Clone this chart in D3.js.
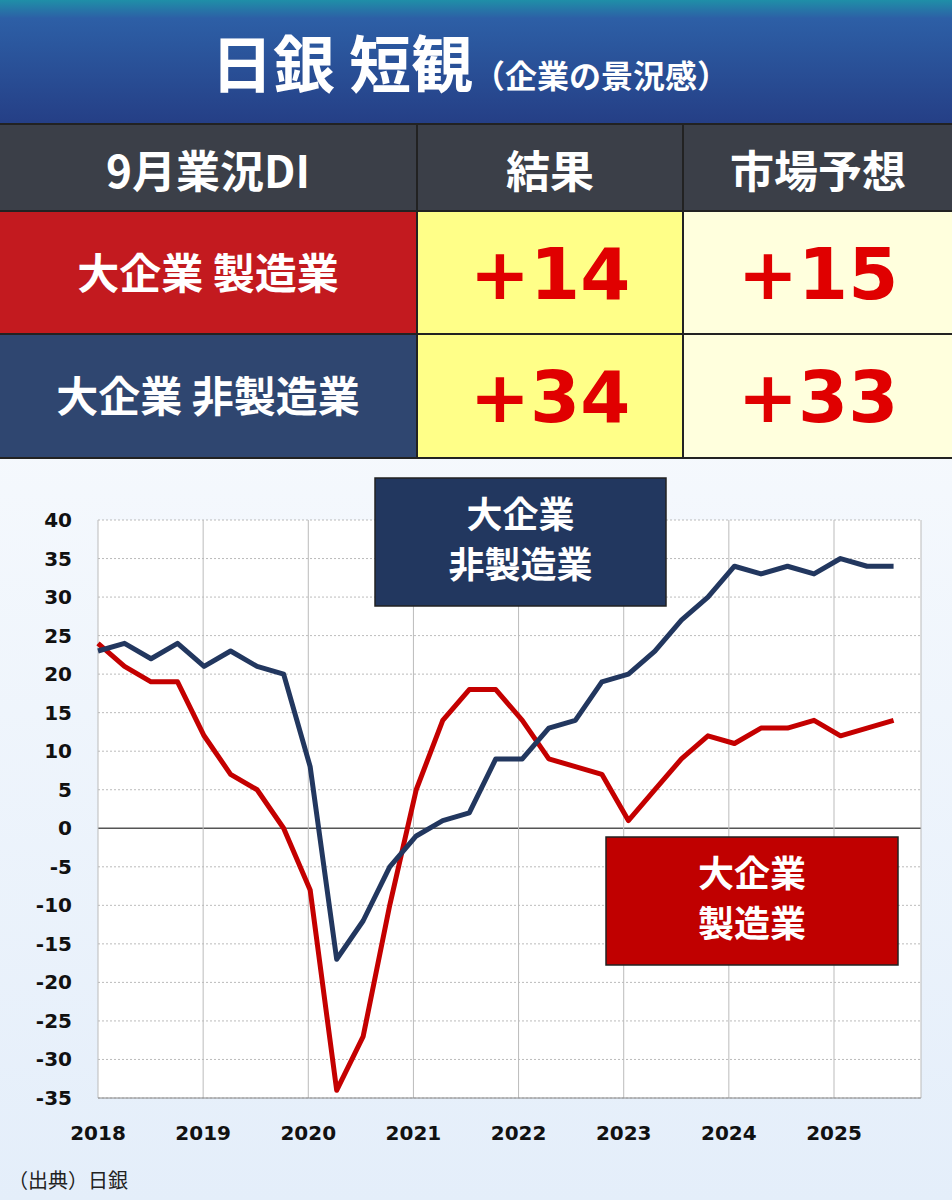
<!DOCTYPE html>
<html><head><meta charset="utf-8">
<script src="https://cdn.jsdelivr.net/npm/d3@7"></script>
<style>body{margin:0;background:#fff}svg{display:block;font-family:"Noto Sans CJK JP","Noto Sans",sans-serif}</style>
</head><body><div id="chart"></div>
<script>
const years = [2018, 2019, 2020, 2021, 2022, 2023, 2024, 2025];
const yTicks = [40, 35, 30, 25, 20, 15, 10, 5, 0, -5, -10, -15, -20, -25, -30, -35];
// quarterly DI, 2018 Q1 .. 2025 Q3
const manufacturing = [24,21,19,19, 12,7,5,0, -8,-34,-27,-10, 5,14,18,18, 14,9,8,7, 1,5,9,12, 11,13,13,14, 12,13,14];
const nonManufacturing = [23,24,22,24, 21,23,21,20, 8,-17,-12,-5, -1,1,2,9, 9,13,14,19, 20,23,27,30, 34,33,34,33, 35,34,34];
const tableHeader = ["9月業況DI", "結果", "市場予想"];
const tableRows = [
  {name: "大企業 製造業", result: "+14", forecast: "+15"},
  {name: "大企業 非製造業", result: "+34", forecast: "+33"}
];

const W = 952, H = 1200;
const svg = d3.select("#chart").append("svg").attr("width", W).attr("height", H);
const defs = svg.append("defs");

const tg = defs.append("linearGradient").attr("id", "tg").attr("x1", 0).attr("x2", 0).attr("y1", 0).attr("y2", 1);
tg.append("stop").attr("offset", 0).attr("stop-color", "#1f8fa8");
tg.append("stop").attr("offset", 0.15).attr("stop-color", "#2d5fa6");
tg.append("stop").attr("offset", 1).attr("stop-color", "#253f86");
const bg = defs.append("linearGradient").attr("id", "bg").attr("x1", 0).attr("x2", 0).attr("y1", 0).attr("y2", 1);
bg.append("stop").attr("offset", 0).attr("stop-color", "#ffffff");
bg.append("stop").attr("offset", 1).attr("stop-color", "#e4eefa");

svg.append("rect").attr("width", W).attr("height", H).attr("fill", "url(#bg)");

// Title banner
svg.append("rect").attr("width", W).attr("height", 123).attr("fill", "url(#tg)");
const title = svg.append("text").attr("x", 470).attr("y", 88).attr("text-anchor", "middle")
  .attr("fill", "#fff").attr("font-weight", "bold");
title.append("tspan").attr("font-size", 62).text("日銀 短観");
title.append("tspan").attr("font-size", 32).text("（企業の景況感）");

// Table
const cols = [[0, 416], [418, 682], [684, 952]];
const rowsY = [[125, 210], [212, 333], [335, 457]];
svg.append("rect").attr("y", 123).attr("width", W).attr("height", 336).attr("fill", "#222");
tableHeader.forEach((t, i) => {
  svg.append("rect").attr("x", cols[i][0]).attr("y", rowsY[0][0])
    .attr("width", cols[i][1] - cols[i][0]).attr("height", rowsY[0][1] - rowsY[0][0]).attr("fill", "#3b3f48");
  svg.append("text").attr("x", (cols[i][0] + cols[i][1]) / 2).attr("y", 188)
    .attr("text-anchor", "middle").attr("fill", "#fff").attr("font-size", 44).attr("font-weight", "bold").text(t);
});
const nameFill = ["#c31a1f", "#2f4670"];
tableRows.forEach((r, j) => {
  const [y0, y1] = rowsY[j + 1];
  const cy = (y0 + y1) / 2;
  const cells = [r.name, r.result, r.forecast];
  const fills = [nameFill[j], "#ffff88", "#ffffdd"];
  cells.forEach((c, i) => {
    svg.append("rect").attr("x", cols[i][0]).attr("y", y0)
      .attr("width", cols[i][1] - cols[i][0]).attr("height", y1 - y0).attr("fill", fills[i]);
    svg.append("text").attr("x", (cols[i][0] + cols[i][1]) / 2).attr("y", i === 0 ? cy + 16 : cy + 26)
      .attr("text-anchor", "middle").attr("font-weight", "bold")
      .attr("font-size", i === 0 ? 42 : 72)
      .attr("fill", i === 0 ? "#fff" : "#e00000")
      .attr("font-family", i === 0 ? null : "'DejaVu Sans',sans-serif")
      .text(c);
  });
});

// Line chart
const plot = {left: 98, right: 921, top: 520, bottom: 1098};
const x = d3.scaleLinear().domain([2018, 2025]).range([plot.left, 834]);
const y = d3.scaleLinear().domain([-35, 40]).range([plot.bottom, plot.top]);
const qx = i => x(2018 + i / 4) + (i / 30) * 7;

const g = svg.append("g");
g.append("rect").attr("x", plot.left).attr("y", plot.top)
  .attr("width", plot.right - plot.left).attr("height", plot.bottom - plot.top).attr("fill", "#fff");
g.selectAll(".hg").data(yTicks).join("line")
  .attr("x1", plot.left).attr("x2", plot.right).attr("y1", d => y(d)).attr("y2", d => y(d))
  .attr("stroke", d => d === 0 ? "#555" : "#aaa").attr("stroke-width", d => d === 0 ? 1.5 : 0.8)
  .attr("stroke-dasharray", d => d === 0 ? null : "2,2");
g.selectAll(".vg").data(years).join("line")
  .attr("x1", d => x(d)).attr("x2", d => x(d)).attr("y1", plot.top).attr("y2", plot.bottom)
  .attr("stroke", "#bbb").attr("stroke-width", 1);
g.append("line").attr("x1", plot.right).attr("x2", plot.right).attr("y1", plot.top).attr("y2", plot.bottom).attr("stroke", "#bbb");
g.append("line").attr("x1", plot.left).attr("x2", plot.right).attr("y1", plot.bottom).attr("y2", plot.bottom).attr("stroke", "#888");

g.selectAll(".yl").data(yTicks).join("text")
  .attr("x", 72).attr("y", d => y(d) + 7).attr("text-anchor", "end")
  .attr("font-size", 20).attr("font-weight", "bold").attr("fill", "#111")
  .attr("font-family", "'DejaVu Sans',sans-serif").text(d => d);
g.selectAll(".xl").data(years).join("text")
  .attr("x", d => x(d)).attr("y", 1140).attr("text-anchor", "middle")
  .attr("font-size", 20).attr("font-weight", "bold").attr("fill", "#111")
  .attr("font-family", "'DejaVu Sans',sans-serif").text(d => d);

const line = d3.line().x((d, i) => qx(i)).y(d => y(d));
g.append("path").datum(manufacturing).attr("d", line).attr("fill", "none")
  .attr("stroke", "#c40000").attr("stroke-width", 5).attr("stroke-linejoin", "round");
g.append("path").datum(nonManufacturing).attr("d", line).attr("fill", "none")
  .attr("stroke", "#22375f").attr("stroke-width", 5).attr("stroke-linejoin", "round");

// Series labels
function label(x0, y0, w, h, fill, lines) {
  g.append("rect").attr("x", x0).attr("y", y0).attr("width", w).attr("height", h)
    .attr("fill", fill).attr("stroke", "#222").attr("stroke-width", 1.5);
  lines.forEach((t, i) => g.append("text").attr("x", x0 + w / 2).attr("y", y0 + 50 + i * 50)
    .attr("text-anchor", "middle").attr("fill", "#fff").attr("font-size", 36).attr("font-weight", "bold").text(t));
}
label(375, 478, 291, 128, "#22375f", ["大企業", "非製造業"]);
label(606, 837, 292, 128, "#c00000", ["大企業", "製造業"]);

svg.append("text").attr("x", 8).attr("y", 1188).attr("font-size", 20).attr("fill", "#222").text("（出典）日銀");
</script></body></html>
